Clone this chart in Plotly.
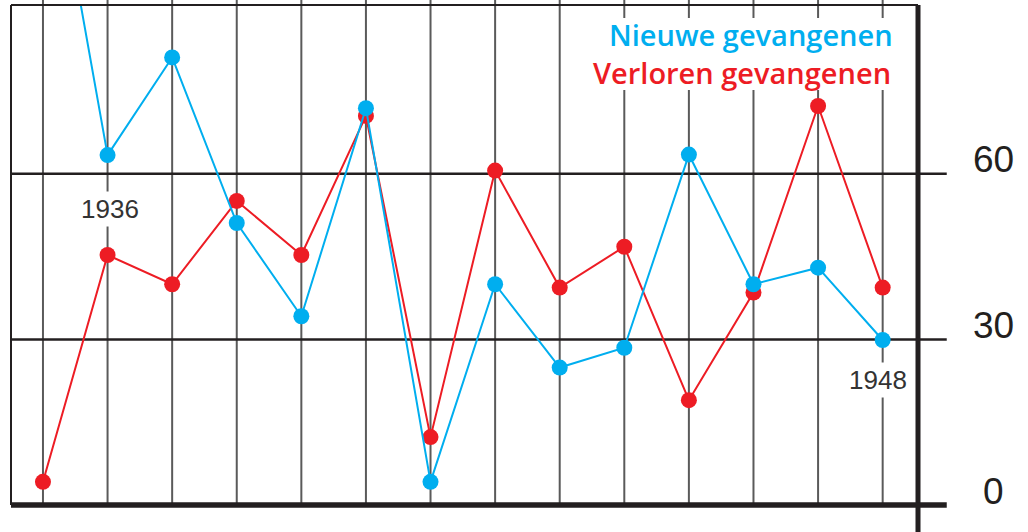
import plotly.graph_objects as go

years = [1935, 1936, 1937, 1938, 1939, 1940, 1941, 1942, 1943, 1944, 1945, 1946, 1947, 1948]
nieuwe = [129, 63.4, 81.1, 51.1, 34.2, 71.9, 4.2, 40.0, 24.9, 28.5, 63.5, 40.0, 43.0, 29.9]
verloren = [4.2, 45.3, 40.0, 55.1, 45.3, 70.5, 12.3, 60.6, 39.4, 46.8, 19.0, 38.5, 72.3, 39.4]
y_ticks = [0, 30, 60]
year_labels = [(1936, 53.6, 2), (1948, 22.6, -5)]
series_names = ["Nieuwe gevangenen", "Verloren gevangenen"]

BLUE = "#00AEEF"
RED = "#ED1C24"
DARK = "#231F20"
GRID = "#5a5a5a"

fig = go.Figure()
fig.add_trace(go.Scatter(x=years, y=verloren, mode="lines+markers", name=series_names[1],
                         line=dict(color=RED, width=2), marker=dict(color=RED, size=16)))
fig.add_trace(go.Scatter(x=years, y=nieuwe, mode="lines+markers", name=series_names[0],
                         line=dict(color=BLUE, width=2), marker=dict(color=BLUE, size=16)))

shapes = []
for yr in years:
    shapes.append(dict(type="line", xref="x", yref="paper", x0=yr, x1=yr, y0=0, y1=1.012,
                       line=dict(color=GRID, width=2), layer="below"))
for v in y_ticks[1:]:
    shapes.append(dict(type="line", xref="paper", yref="y", x0=0, x1=1.0317, y0=v, y1=v,
                       line=dict(color=DARK, width=2.5), layer="below"))
shapes.append(dict(type="rect", xref="paper", yref="paper", x0=0.645, x1=0.9857, y0=0.83, y1=0.974,
                   fillcolor="white", line=dict(width=0), layer="below"))
shapes.append(dict(type="line", xref="paper", yref="paper", x0=0, x1=1, y0=1, y1=1,
                   line=dict(color=DARK, width=2)))
shapes.append(dict(type="line", xref="paper", yref="paper", x0=0, x1=0, y0=0, y1=1,
                   line=dict(color=DARK, width=2)))
shapes.append(dict(type="line", xref="paper", yref="paper", x0=1, x1=1, y0=-0.054, y1=1,
                   line=dict(color=DARK, width=5)))
shapes.append(dict(type="line", xref="paper", yref="paper", x0=0, x1=1.0317, y0=0, y1=0,
                   line=dict(color=DARK, width=5.5)))

annotations = []
for yr, yv, xs in year_labels:
    annotations.append(dict(x=yr, y=yv, xref="x", yref="y", text=str(yr), showarrow=False,
                            xshift=xs, font=dict(family="Liberation Sans", size=26, color="#333333"),
                            bgcolor="white", borderpad=2))
for v in y_ticks:
    annotations.append(dict(x=1.0827, y=v, xref="paper", yref="y", text=str(v), showarrow=False,
                            xanchor="center", yanchor="middle", yshift=14,
                            font=dict(family="Liberation Sans", size=37, color=DARK)))
annotations.append(dict(x=0.9747, y=0.942, xref="paper", yref="paper", text=series_names[0],
                        showarrow=False, xanchor="right", yanchor="middle",
                        font=dict(family="Open Sans", size=29, color=BLUE, weight=600)))
annotations.append(dict(x=0.9725, y=0.866, xref="paper", yref="paper", text=series_names[1],
                        showarrow=False, xanchor="right", yanchor="middle",
                        font=dict(family="Open Sans", size=29, color=RED, weight=600)))

fig.update_layout(
    width=1028, height=532,
    margin=dict(l=11, r=110, t=5, b=27),
    paper_bgcolor="white", plot_bgcolor="white",
    showlegend=False,
    hovermode=False,
    xaxis=dict(range=[1934.505, 1948.547], showgrid=False, zeroline=False, showticklabels=False,
               ticks="", showline=False),
    yaxis=dict(range=[0, 90.6], showgrid=False, zeroline=False, showticklabels=False,
               ticks="", showline=False),
    shapes=shapes, annotations=annotations,
)

fig.write_html("out.html", config={"displayModeBar": False},
               post_script="document.body.style.margin='0';document.body.style.overflow='hidden';")
